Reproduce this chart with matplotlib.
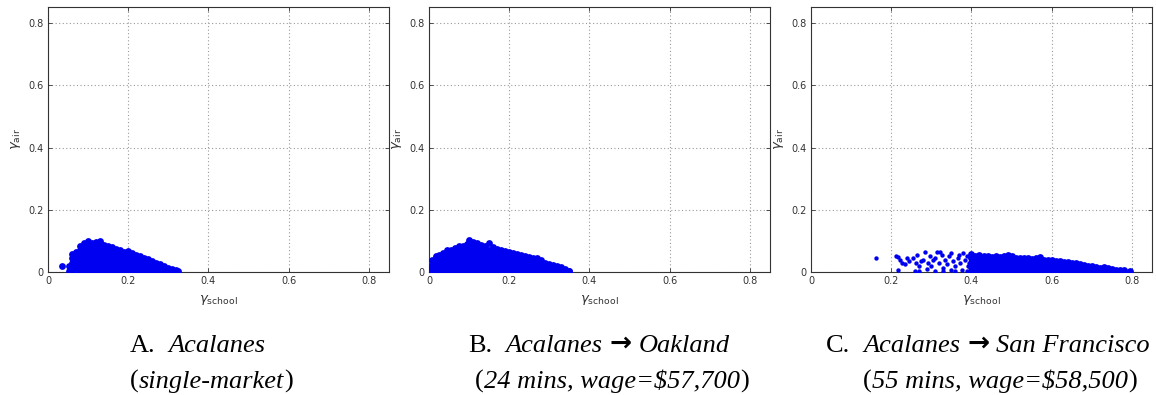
"""Three scatter panels of gamma_air vs gamma_school (MATLAB-style figure)."""
import matplotlib
matplotlib.use('Agg')
import matplotlib.pyplot as plt

# --- data ----------------------------------------------------------------
# points are stored column by column: one x per column, a list of y's per column

# A. Acalanes (single-market)
a_col_x = [0.035, 0.052, 0.060, 0.070, 0.080, 0.090, 0.100, 0.110, 0.120, 0.130,
           0.140, 0.150, 0.160, 0.170, 0.180, 0.190, 0.200, 0.210, 0.220, 0.230,
           0.240, 0.250, 0.260, 0.270, 0.280, 0.290, 0.300, 0.310, 0.320, 0.325]
a_col_y = [
    [0.018],
    [0.004, 0.018],
    [0.002, 0.016, 0.030, 0.045, 0.057],
    [0.008, 0.022, 0.036, 0.050, 0.064],
    [0.002, 0.016, 0.030, 0.044, 0.058, 0.072, 0.085],
    [0.008, 0.022, 0.036, 0.050, 0.064, 0.078, 0.092],
    [0.002, 0.016, 0.030, 0.044, 0.058, 0.072, 0.086, 0.099],
    [0.008, 0.022, 0.036, 0.050, 0.064, 0.078, 0.092],
    [0.002, 0.016, 0.030, 0.044, 0.058, 0.072, 0.086, 0.095],
    [0.008, 0.022, 0.036, 0.050, 0.064, 0.078, 0.092, 0.100],
    [0.002, 0.016, 0.030, 0.044, 0.058, 0.072, 0.088],
    [0.008, 0.022, 0.036, 0.050, 0.064, 0.078, 0.085],
    [0.002, 0.016, 0.030, 0.044, 0.058, 0.072, 0.080],
    [0.008, 0.022, 0.036, 0.050, 0.064, 0.074],
    [0.002, 0.016, 0.030, 0.044, 0.058, 0.070],
    [0.008, 0.022, 0.036, 0.050, 0.064],
    [0.002, 0.016, 0.030, 0.044, 0.058, 0.066],
    [0.008, 0.022, 0.036, 0.050, 0.060],
    [0.002, 0.016, 0.030, 0.044, 0.055],
    [0.008, 0.022, 0.036, 0.050],
    [0.002, 0.016, 0.030, 0.044],
    [0.008, 0.022, 0.036, 0.042],
    [0.002, 0.016, 0.030, 0.036],
    [0.008, 0.022, 0.030],
    [0.002, 0.016, 0.027],
    [0.008, 0.020],
    [0.002, 0.014],
    [0.006, 0.011],
    [0.002, 0.006],
    [0.002],
]

# B. Acalanes -> Oakland
b_col_x = [0.000, 0.008, 0.017, 0.025, 0.035, 0.045, 0.055, 0.065, 0.075, 0.085,
           0.095, 0.100, 0.110, 0.120, 0.130, 0.140, 0.150, 0.160, 0.170, 0.180,
           0.190, 0.200, 0.210, 0.220, 0.230, 0.240, 0.250, 0.260, 0.270, 0.280,
           0.290, 0.300, 0.310, 0.320, 0.330, 0.340, 0.350]
b_col_y = [
    [0.002, 0.012],
    [0.008, 0.022, 0.040],
    [0.002, 0.016, 0.030, 0.044, 0.050],
    [0.008, 0.022, 0.036, 0.050, 0.055],
    [0.002, 0.016, 0.030, 0.044, 0.058, 0.062],
    [0.008, 0.022, 0.036, 0.050, 0.064, 0.070],
    [0.002, 0.016, 0.030, 0.044, 0.058, 0.072],
    [0.008, 0.022, 0.036, 0.050, 0.064, 0.078],
    [0.002, 0.016, 0.030, 0.044, 0.058, 0.072, 0.082],
    [0.008, 0.022, 0.036, 0.050, 0.064, 0.078, 0.085],
    [0.002, 0.016, 0.030, 0.044, 0.058, 0.072, 0.086, 0.090],
    [0.008, 0.022, 0.036, 0.050, 0.064, 0.078, 0.092, 0.102],
    [0.002, 0.016, 0.030, 0.044, 0.058, 0.072, 0.086, 0.095],
    [0.008, 0.022, 0.036, 0.050, 0.064, 0.078, 0.092],
    [0.002, 0.016, 0.030, 0.044, 0.058, 0.072, 0.088],
    [0.008, 0.022, 0.036, 0.050, 0.064, 0.078, 0.085],
    [0.002, 0.016, 0.030, 0.044, 0.058, 0.072, 0.092],
    [0.008, 0.022, 0.036, 0.050, 0.064, 0.080],
    [0.002, 0.016, 0.030, 0.044, 0.058, 0.075],
    [0.008, 0.022, 0.036, 0.050, 0.064, 0.072],
    [0.002, 0.016, 0.030, 0.044, 0.058, 0.066],
    [0.008, 0.022, 0.036, 0.050, 0.065],
    [0.002, 0.016, 0.030, 0.044, 0.058, 0.062],
    [0.008, 0.022, 0.036, 0.050, 0.058],
    [0.002, 0.016, 0.030, 0.044, 0.055],
    [0.008, 0.022, 0.036, 0.050],
    [0.002, 0.016, 0.030, 0.044, 0.048],
    [0.008, 0.022, 0.036, 0.045],
    [0.002, 0.016, 0.030, 0.044],
    [0.008, 0.022, 0.038],
    [0.002, 0.016, 0.030],
    [0.008, 0.022, 0.027],
    [0.002, 0.016, 0.024],
    [0.008, 0.020],
    [0.002, 0.016],
    [0.004, 0.010],
    [0.002, 0.004],
]

# C. Acalanes -> San Francisco: sparse left part, then a dense band
c_sparse_x = [0.163, 0.213, 0.218, 0.222, 0.217, 0.228, 0.234, 0.240, 0.245, 0.255,
              0.258, 0.262, 0.268, 0.275, 0.280, 0.284, 0.288, 0.292, 0.296, 0.300,
              0.304, 0.308, 0.313, 0.318, 0.321, 0.326, 0.330, 0.335, 0.340, 0.345,
              0.350, 0.355, 0.360, 0.367, 0.372, 0.376, 0.380, 0.385, 0.388, 0.392,
              0.395, 0.398, 0.390, 0.370, 0.350, 0.310, 0.265, 0.270, 0.330, 0.360]
c_sparse_y = [0.044, 0.052, 0.048, 0.038, 0.008, 0.030, 0.025, 0.045, 0.035, 0.044,
              0.002, 0.028, 0.018, 0.035, 0.039, 0.065, 0.010, 0.028, 0.050, 0.020,
              0.040, 0.003, 0.065, 0.030, 0.065, 0.055, 0.012, 0.040, 0.025, 0.050,
              0.005, 0.035, 0.018, 0.044, 0.028, 0.008, 0.060, 0.038, 0.050, 0.020,
              0.030, 0.045, 0.002, 0.055, 0.060, 0.045, 0.055, 0.002, 0.002, 0.002]
c_col_x = [0.400, 0.410, 0.420, 0.430, 0.440, 0.450, 0.460, 0.470, 0.480, 0.490,
           0.500, 0.510, 0.520, 0.530, 0.540, 0.550, 0.560, 0.570, 0.580, 0.590,
           0.600, 0.610, 0.620, 0.630, 0.640, 0.650, 0.660, 0.670, 0.680, 0.690,
           0.700, 0.710, 0.720, 0.730, 0.740, 0.750, 0.760, 0.770, 0.780, 0.795]
c_col_y = [
    [0.002, 0.016, 0.030, 0.044, 0.058],
    [0.008, 0.022, 0.036, 0.050],
    [0.002, 0.016, 0.030, 0.044, 0.055],
    [0.008, 0.022, 0.036, 0.050],
    [0.002, 0.016, 0.030, 0.044, 0.052],
    [0.008, 0.022, 0.036, 0.048],
    [0.002, 0.016, 0.030, 0.044, 0.050],
    [0.008, 0.022, 0.036, 0.048],
    [0.002, 0.016, 0.030, 0.044, 0.052],
    [0.008, 0.022, 0.036, 0.055],
    [0.002, 0.016, 0.030, 0.044, 0.050],
    [0.008, 0.022, 0.036, 0.046],
    [0.002, 0.016, 0.030, 0.044],
    [0.008, 0.022, 0.036, 0.045],
    [0.002, 0.016, 0.030, 0.044],
    [0.008, 0.022, 0.036, 0.043],
    [0.002, 0.016, 0.030, 0.046],
    [0.008, 0.022, 0.036, 0.049],
    [0.002, 0.016, 0.030, 0.040],
    [0.008, 0.022, 0.036, 0.039],
    [0.002, 0.016, 0.030, 0.038],
    [0.008, 0.022, 0.036],
    [0.002, 0.016, 0.030, 0.036],
    [0.008, 0.022, 0.033],
    [0.002, 0.016, 0.030, 0.033],
    [0.008, 0.022, 0.030],
    [0.002, 0.016, 0.028],
    [0.008, 0.022, 0.026],
    [0.002, 0.016, 0.024],
    [0.008, 0.020],
    [0.002, 0.016, 0.019],
    [0.008, 0.017],
    [0.002, 0.014],
    [0.008, 0.015],
    [0.002, 0.012],
    [0.006, 0.011],
    [0.002, 0.008],
    [0.005],
    [0.002, 0.005],
    [0.002],
]

ticks = [0, 0.2, 0.4, 0.6, 0.8]
tick_labels = ['0', '0.2', '0.4', '0.6', '0.8']

captions = [
    [[('A.', 'normal', 'n'), ('Acalanes', 'italic', 'gap')],
     [('(', 'normal', 'n'), ('single-market', 'italic', 'n'), (')', 'normal', 'n')]],
    [[('B.', 'normal', 'n'), ('Acalanes', 'italic', 'gap'), ('→', 'arrow', 'sp'),
      ('Oakland', 'italic', 'sp')],
     [('(', 'normal', 'n'), ('24 mins, wage=\\$57,700', 'italic', 'n'), (')', 'normal', 'n')]],
    [[('C.', 'normal', 'n'), ('Acalanes', 'italic', 'gap'), ('→', 'arrow', 'sp'),
      ('San Francisco', 'italic', 'sp')],
     [('(', 'normal', 'n'), ('55 mins, wage=\\$58,500', 'italic', 'n'), (')', 'normal', 'n')]],
]
# where each caption line starts (pixels from the left edge)
caption_x0 = [[130, 130], [468, 475], [826, 863]]


def flatten(col_x, col_y):
    xs, ys = [], []
    for x, col in zip(col_x, col_y):
        for y in col:
            xs.append(x)
            ys.append(y)
    return xs, ys


ax_x, ay = flatten(a_col_x, a_col_y)
bx, by = flatten(b_col_x, b_col_y)
cx, cy = flatten(c_col_x, c_col_y)
# (dense points, sparse points) per panel
panels = [((ax_x, ay), ([], [])),
          ((bx, by), ([], [])),
          ((cx, cy), (c_sparse_x, c_sparse_y))]

W, H = 1156, 395
fig = plt.figure(figsize=(W / 100, H / 100), dpi=100, facecolor='white')

ax_left = [48, 429, 811]
ax_w, ax_bottom, ax_top = 341, 272, 7

BLUE = '#0000f0'
GRID = '#9a9a9a'
SPINE = '#333333'

for i, ((dx, dy), (sx, sy)) in enumerate(panels):
    ax = fig.add_axes([ax_left[i] / W, 1 - ax_bottom / H, ax_w / W, (ax_bottom - ax_top) / H])
    ax.scatter(dx, dy, s=24, c=BLUE, marker='o', linewidths=0, zorder=3)
    if sx:
        ax.scatter(sx, sy, s=10, c=BLUE, marker='o', linewidths=0, zorder=3)
    ax.set_xlim(0, 0.85)
    ax.set_ylim(0, 0.852)
    ax.set_xticks(ticks)
    ax.set_yticks(ticks)
    ax.set_xticklabels(tick_labels)
    ax.set_yticklabels(tick_labels)
    ax.tick_params(direction='in', length=3, width=0.6, top=True, right=True,
                   labelsize=7, labelcolor='#333333', color=SPINE, pad=3)
    ax.grid(True, linestyle=(0, (1, 2.2)), color=GRID, linewidth=0.8, zorder=0)
    for sp in ax.spines.values():
        sp.set_color(SPINE)
        sp.set_linewidth(0.8)
    ax.set_xlabel(r'$\gamma_{\mathrm{school}}$', fontsize=9.5, color='#333333', labelpad=5)
    ax.set_ylabel(r'$\gamma_{\mathrm{air}}$', fontsize=9.5, color='#333333', labelpad=4)

# captions in Times-like serif, roman letter + italic words
renderer = fig.canvas.get_renderer()
baselines = [H - 352, H - 388]
for i, lines in enumerate(captions):
    for j, pieces in enumerate(lines):
        x = caption_x0[i][j]
        for txt, style, spacing in pieces:
            if spacing == 'gap':
                x += 13
            elif spacing == 'sp':
                x += 7
            if style == 'arrow':
                t = fig.text(x / W, baselines[j] / H + 0.004, txt, fontsize=19, fontweight='bold',
                             family='DejaVu Sans', va='baseline', ha='left')
            else:
                t = fig.text(x / W, baselines[j] / H, txt, fontsize=19, style=style,
                             family='Liberation Serif', va='baseline', ha='left')
            bb = t.get_window_extent(renderer)
            x += bb.width

fig.savefig('out.png', dpi=100, facecolor='white')
